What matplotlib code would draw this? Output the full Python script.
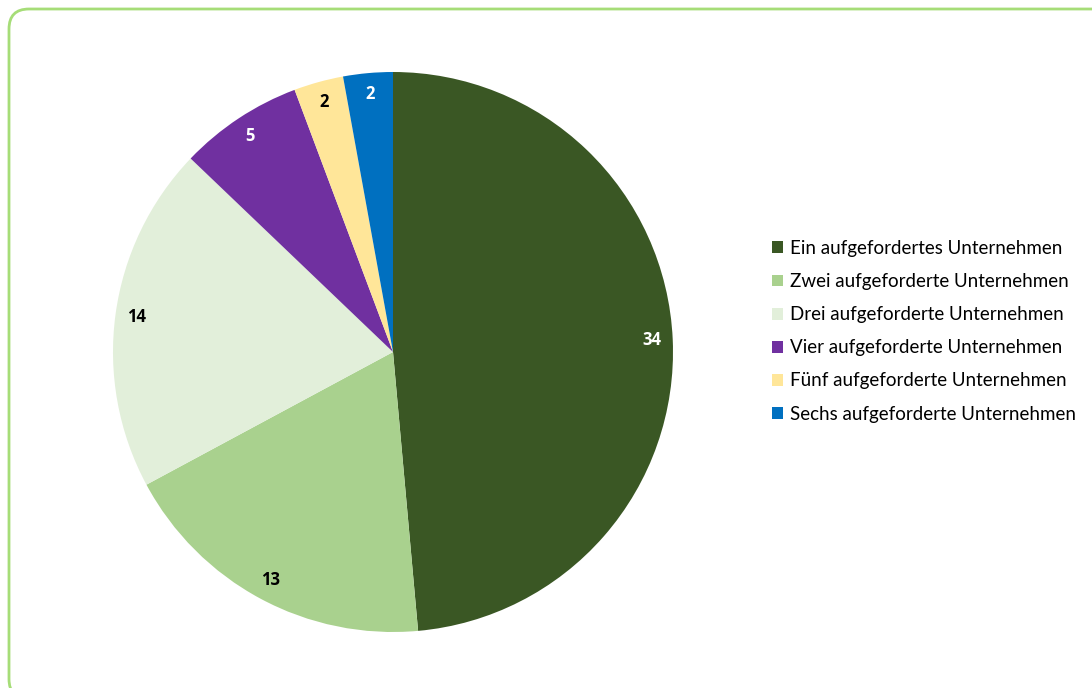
import matplotlib.pyplot as plt
from matplotlib.patches import FancyBboxPatch

categories = [
    "Ein aufgefordertes Unternehmen",
    "Zwei aufgeforderte Unternehmen",
    "Drei aufgeforderte Unternehmen",
    "Vier aufgeforderte Unternehmen",
    "Fünf aufgeforderte Unternehmen",
    "Sechs aufgeforderte Unternehmen",
]
values = [34, 13, 14, 5, 2, 2]
colors = ["#3A5724", "#A9D18E", "#E2EFDA", "#7030A0", "#FFE699", "#0070C0"]
label_colors = ["white", "black", "black", "white", "black", "white"]

plt.rcParams["font.family"] = ["Lato", "DejaVu Sans"]

W, H = 1092, 688
fig = plt.figure(figsize=(W / 100, H / 100), dpi=100)

# background layer in pixel units for the rounded frame
bg = fig.add_axes([0, 0, 1, 1], zorder=-1)
bg.set_xlim(0, W)
bg.set_ylim(H, 0)
bg.axis("off")
bg.add_patch(FancyBboxPatch((9, 9), 1150, 690,
                            boxstyle="round,pad=0,rounding_size=20",
                            facecolor="white", edgecolor="#A6DD78",
                            linewidth=2.0))

ax = fig.add_axes([113 / W, 56 / H, 560 / W, 560 / H])
wedges, texts = ax.pie(values, colors=colors, startangle=90, counterclock=False,
                       labels=[str(v) for v in values], labeldistance=0.925,
                       wedgeprops=dict(linewidth=0),
                       textprops=dict(fontsize=12, fontweight="bold",
                                      family=["Open Sans", "DejaVu Sans"]))
for t, c in zip(texts, label_colors):
    t.set_color(c)
    t.set_ha("center")
    t.set_va("center")
ax.set_xlim(-1, 1)
ax.set_ylim(-1, 1)
ax.set_aspect("equal")

fig.legend(wedges, categories, loc="upper left",
           bbox_to_anchor=(772 / W, 1 - 240 / H),
           frameon=False, fontsize=13.5, handlelength=0.6, handleheight=0.6,
           handletextpad=0.38, labelspacing=0.86, borderpad=0, borderaxespad=0)

fig.savefig("out.png", dpi=100)
